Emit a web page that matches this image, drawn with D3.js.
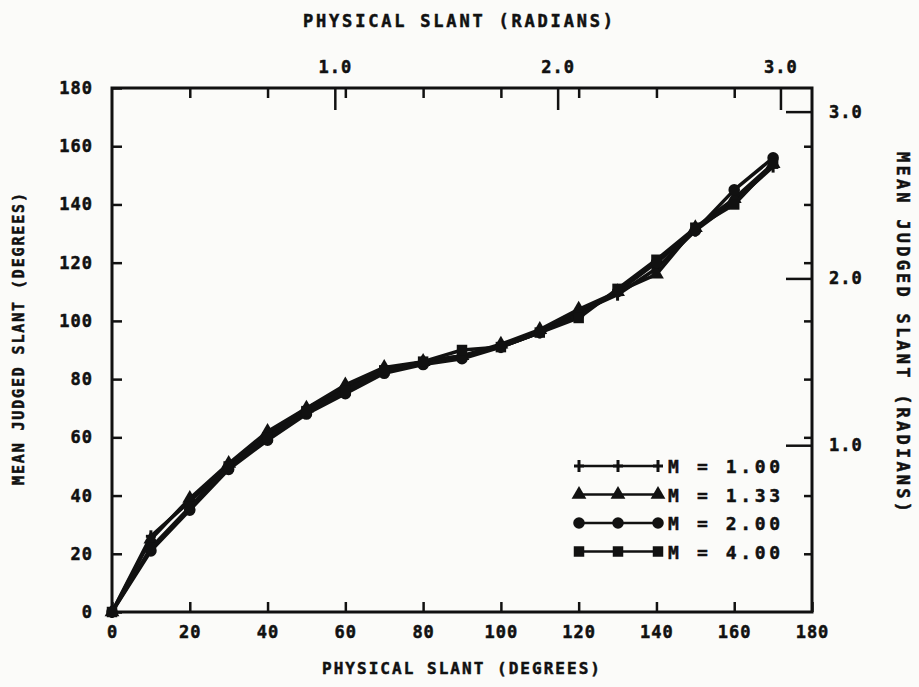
<!DOCTYPE html>
<html>
<head>
<meta charset="utf-8">
<script src="https://cdn.jsdelivr.net/npm/d3@7"></script>
<style>
  body { margin: 0; background: #fbfbf9; }
  svg text { font-family: "DejaVu Sans Mono", monospace; font-weight: bold; fill: #111; stroke: #111; stroke-width: 0.5px; }
</style>
</head>
<body>
<div id="my_dataviz"></div>
<script>
// Physical slant (degrees) for each point
const slant = [0, 10, 20, 30, 40, 50, 60, 70, 80, 90, 100, 110, 120, 130, 140, 150, 160, 170];

// Mean judged slant (degrees) for each M
const m100 = [0, 26, 38, 50, 61, 70, 77, 83, 86, 88, 91, 96, 103, 109, 118, 131, 141, 153];
const m133 = [0, 25, 39, 51, 62, 70, 78, 84, 86, 88, 92, 97, 104, 110, 116, 132, 142, 154];
const m200 = [0, 21, 35, 49, 59, 68, 75, 82, 85, 87, 91, 96, 102, 110, 120, 131, 145, 156];
const m400 = [0, 22, 36, 50, 60, 69, 76, 83, 86, 90, 91, 96, 101, 111, 121, 132, 140, 154];

const seriesNames = ["M = 1.00", "M = 1.33", "M = 2.00", "M = 4.00"];
const markers = ["plus", "triangle", "circle", "square"];

// tick labels
const degTicks = [0, 20, 40, 60, 80, 100, 120, 140, 160, 180];
const radTicks = [1, 2, 3];

const W = 919, H = 687;
const margin = { top: 88, right: 107, bottom: 75, left: 112 };

const svg = d3.select("#my_dataviz")
  .append("svg")
    .attr("width", W)
    .attr("height", H);

const x = d3.scaleLinear().domain([0, 180]).range([margin.left, W - margin.right]);
const y = d3.scaleLinear().domain([0, 180]).range([H - margin.bottom, margin.top]);
// radian scales share the same extent (0..pi == 0..180 deg)
const xr = d3.scaleLinear().domain([0, Math.PI]).range(x.range());
const yr = d3.scaleLinear().domain([0, Math.PI]).range(y.range());

// frame
svg.append("rect")
  .attr("x", x(0)).attr("y", y(180))
  .attr("width", x(180) - x(0)).attr("height", y(0) - y(180))
  .attr("fill", "none").attr("stroke", "#111").attr("stroke-width", 3);

function styleAxis(g, fs) {
  g.select(".domain").remove();
  g.selectAll(".tick line").attr("stroke", "#111").attr("stroke-width", 2.5);
  g.selectAll("text").style("font-size", fs + "px").style("letter-spacing", "1px");
}

// bottom: degrees
svg.append("g")
  .attr("transform", `translate(0,${y(0)})`)
  .call(d3.axisBottom(x).tickValues(degTicks).tickSize(-10).tickPadding(14))
  .call(g => styleAxis(g, 17));

// left: degrees
svg.append("g")
  .attr("transform", `translate(${x(0)},0)`)
  .call(d3.axisLeft(y).tickValues(degTicks).tickSize(-10).tickPadding(19))
  .call(g => styleAxis(g, 17));

// top: degree minor ticks + radian major ticks
svg.append("g")
  .attr("transform", `translate(0,${y(180)})`)
  .call(d3.axisTop(x).tickValues(degTicks.slice(1, -1)).tickSize(-10).tickFormat(""))
  .call(g => styleAxis(g, 17));
svg.append("g")
  .attr("transform", `translate(0,${y(180)})`)
  .call(d3.axisTop(xr).tickValues(radTicks).tickSize(-22).tickPadding(15).tickFormat(d3.format(".1f")))
  .call(g => styleAxis(g, 17));

// right: degree minor ticks + radian major ticks
svg.append("g")
  .attr("transform", `translate(${x(180)},0)`)
  .call(d3.axisRight(y).tickValues(degTicks.slice(1, -1)).tickSize(-8).tickFormat(""))
  .call(g => styleAxis(g, 17));
svg.append("g")
  .attr("transform", `translate(${x(180)},0)`)
  .call(d3.axisRight(yr).tickValues(radTicks).tickSize(-26).tickPadding(17).tickFormat(d3.format(".1f")))
  .call(g => styleAxis(g, 17));

// axis titles
svg.append("text")
  .attr("x", 458).attr("y", 27)
  .attr("text-anchor", "middle")
  .attr("textLength", 310).attr("lengthAdjust", "spacing")
  .style("font-size", "17px")
  .text("PHYSICAL SLANT (RADIANS)");

svg.append("text")
  .attr("x", 461).attr("y", 674)
  .attr("text-anchor", "middle")
  .attr("textLength", 278).attr("lengthAdjust", "spacing")
  .style("font-size", "16px")
  .text("PHYSICAL SLANT (DEGREES)");

svg.append("text")
  .attr("transform", "translate(24,339) rotate(-90)")
  .attr("text-anchor", "middle")
  .attr("textLength", 292).attr("lengthAdjust", "spacing")
  .style("font-size", "15px")
  .text("MEAN JUDGED SLANT (DEGREES)");

svg.append("text")
  .attr("transform", "translate(897,332) rotate(90)")
  .attr("text-anchor", "middle")
  .attr("textLength", 360).attr("lengthAdjust", "spacing")
  .style("font-size", "17px")
  .text("MEAN JUDGED SLANT (RADIANS)");

// markers
function drawMarker(g, type, cx, cy) {
  if (type === "plus") {
    g.append("line").attr("x1", cx).attr("x2", cx).attr("y1", cy - 6).attr("y2", cy + 6)
      .attr("stroke", "#111").attr("stroke-width", 3);
    g.append("line").attr("x1", cx - 5).attr("x2", cx + 5).attr("y1", cy).attr("y2", cy)
      .attr("stroke", "#111").attr("stroke-width", 3);
  } else {
    const sym = { triangle: d3.symbolTriangle, circle: d3.symbolCircle, square: d3.symbolSquare }[type];
    const size = { triangle: 95, circle: 105, square: 110 }[type];
    g.append("path")
      .attr("d", d3.symbol().type(sym).size(size)())
      .attr("transform", `translate(${cx},${cy})`)
      .attr("fill", "#111");
  }
}

const allSeries = [m100, m133, m200, m400];
const line = d3.line().x((d, i) => x(slant[i])).y(d => y(d));

allSeries.forEach((vals, k) => {
  const g = svg.append("g");
  g.append("path")
    .datum(vals)
    .attr("d", line)
    .attr("fill", "none")
    .attr("stroke", "#111")
    .attr("stroke-width", 3.5)
    .attr("stroke-linejoin", "round");
  vals.forEach((v, i) => drawMarker(g, markers[k], x(slant[i]), y(v)));
});

// legend
const legend = svg.append("g");
seriesNames.forEach((name, k) => {
  const ly = 466 + k * 28.5;
  legend.append("line")
    .attr("x1", 579).attr("x2", 658).attr("y1", ly).attr("y2", ly)
    .attr("stroke", "#111").attr("stroke-width", 2.5);
  [579, 618, 658].forEach(mx => drawMarker(legend, markers[k], mx, ly));
  legend.append("text")
    .attr("x", 668).attr("y", ly + 7)
    .attr("textLength", 112).attr("lengthAdjust", "spacing")
    .style("font-size", "18px")
    .text(name);
});
</script>
</body>
</html>
